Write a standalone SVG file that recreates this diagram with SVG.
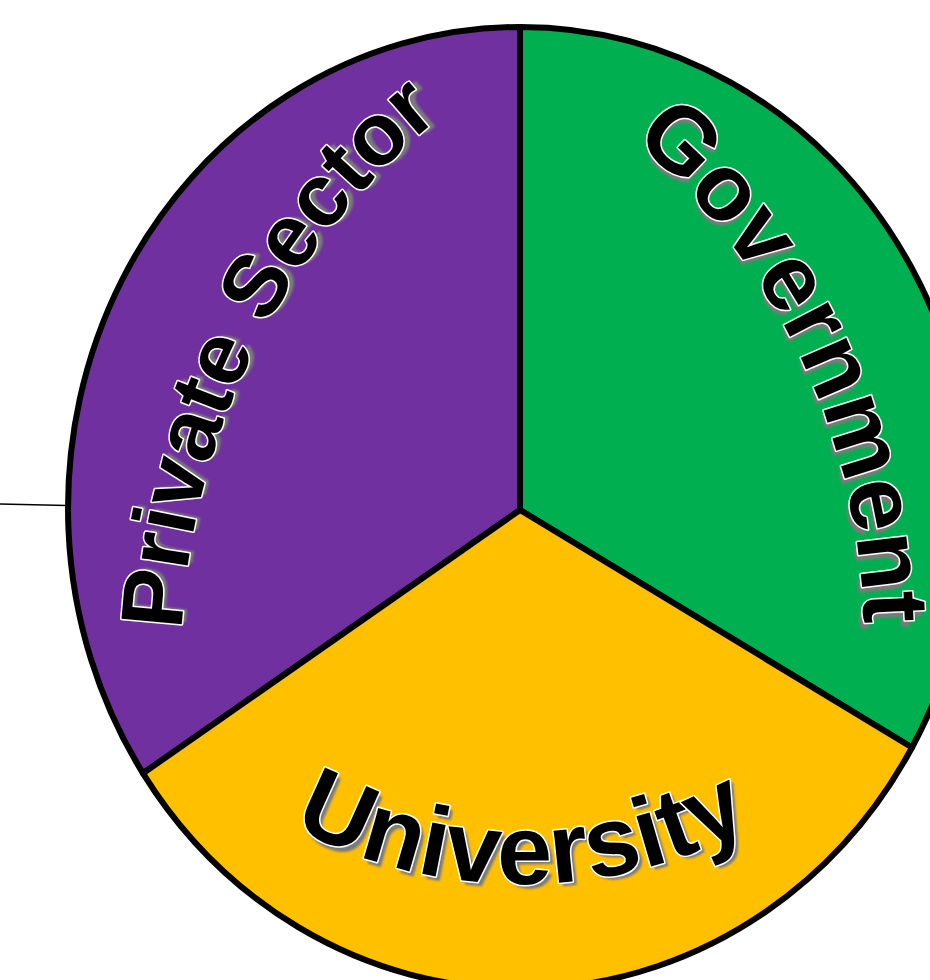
<svg xmlns="http://www.w3.org/2000/svg" xmlns:xlink="http://www.w3.org/1999/xlink" width="930" height="980" viewBox="0 0 930 980">
  <style>
    .sector { stroke: #000; stroke-width: 6; stroke-linejoin: round; }
    .lbl { font-family: "Liberation Sans", Arial, sans-serif; font-weight: bold; }
    .main { fill: #000; stroke: #fff; stroke-width: 3; paint-order: stroke; stroke-linejoin: round; }
    .shadow { fill: #7a7a7a; filter: url(#soft); }
    .conn { stroke: #000; stroke-width: 1.6; fill: none; }
  </style>
  <defs>
    <filter id="soft" x="-10%" y="-10%" width="120%" height="120%">
      <feGaussianBlur stdDeviation="1.2"/>
    </filter>
    <path id="pPriv" d="M199.8,826.0 A707,707 0 0 1 608.9,14.4"/>
    <path id="pPrivS" d="M203.7,825.1 A703,703 0 0 1 610.5,18.1"/>
    <path id="pGov" d="M478.9,41.2 A658,658 0 0 1 843.0,804.8"/>
    <path id="pGovS" d="M477.2,44.9 A654,654 0 0 1 839.2,803.7"/>
    <path id="pUni" d="M102.8,642 A484,484 0 0 0 941.2,642"/>
    <path id="pUniS" d="M99.4,644 A488,488 0 0 0 944.6,644"/>
  </defs>
  <rect width="930" height="980" fill="#fff"/>

  <g id="connectors">
    <line class="conn" x1="0" y1="504" x2="67" y2="505.5"/>
  </g>

  <g id="private-sector">
    <path class="sector" fill="#7030A0" d="M520,510 L520,27 A452,481 0 0 0 143,773.3 Z"/>
    <text class="lbl shadow" font-size="88" text-anchor="middle"><textPath xlink:href="#pPrivS" href="#pPrivS" startOffset="494.8">Private Sector</textPath></text>
    <text class="lbl main" font-size="88" text-anchor="middle"><textPath xlink:href="#pPriv" href="#pPriv" startOffset="50%">Private Sector</textPath></text>
  </g>

  <g id="government">
    <path class="sector" fill="#00B050" d="M520,510 L520,27 A452,481 0 0 1 912,747.5 Z"/>
    <text class="lbl shadow" font-size="94" text-anchor="middle"><textPath xlink:href="#pGovS" href="#pGovS" startOffset="460.6">Government</textPath></text>
    <text class="lbl main" font-size="94" text-anchor="middle"><textPath xlink:href="#pGov" href="#pGov" startOffset="50%">Government</textPath></text>
  </g>

  <g id="university">
    <path class="sector" fill="#FFC000" d="M520,510 L143,773.3 A452,481 0 0 0 912,747.5 Z"/>
    <text class="lbl shadow" font-size="99" text-anchor="middle"><textPath xlink:href="#pUniS" href="#pUniS" startOffset="515.1">University</textPath></text>
    <text class="lbl main" font-size="99" text-anchor="middle"><textPath xlink:href="#pUni" href="#pUni" startOffset="50%">University</textPath></text>
  </g>
</svg>
